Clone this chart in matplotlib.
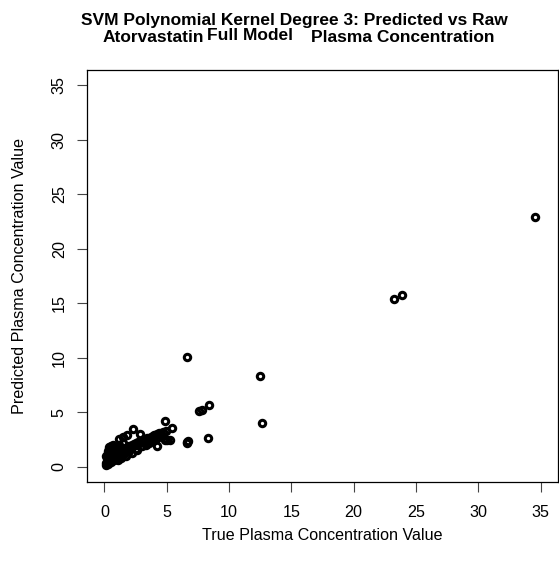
import numpy as np
import matplotlib.pyplot as plt

plt.rcParams['font.family'] = ['Liberation Sans', 'DejaVu Sans']

# observed (true) vs SVM-predicted plasma concentration
true_vals = [
    # dense low-concentration cluster
    0.10, 0.15, 0.20, 0.25, 0.30, 0.20, 0.30, 0.25, 0.35, 0.40,
    0.50, 0.60, 0.70, 0.80, 0.45, 0.50, 0.60, 0.70, 0.80, 0.90,
    1.00, 1.10, 1.20, 1.30, 1.40, 1.50, 1.60, 1.70, 1.80, 1.90,
    2.00, 2.10, 2.20, 2.30, 2.40, 2.50, 2.60, 2.70, 2.80, 3.00,
    3.10, 3.20, 3.40, 3.50, 3.70, 3.90, 4.00, 4.20, 4.40, 4.50,
    4.70, 4.90, 1.00, 1.20, 1.50, 1.60, 0.90, 1.10, 1.20, 1.50,
    1.80, 0.15, 0.30, 0.60, 1.00, 1.40, 2.00, 2.50, 3.00, 3.60,
    4.10, 0.55, 0.75, 1.30, 1.70, 2.20, 2.60, 3.30, 3.80, 4.30,
    # scattered points
    2.28, 2.86, 4.84, 5.40, 5.05, 4.25, 4.86, 5.27, 0.46,
    6.60, 6.70, 6.65, 7.60, 7.80, 8.40, 8.33, 6.63, 12.49, 12.65,
    23.23, 23.87, 34.54,
]
pred_vals = [
    0.20, 0.30, 0.40, 0.25, 0.50, 0.80, 1.00, 1.30, 1.60, 1.80,
    1.90, 1.70, 1.95, 1.80, 0.60, 0.70, 0.80, 1.00, 0.90, 1.10,
    1.20, 1.00, 1.30, 1.20, 1.50, 1.40, 1.60, 1.50, 1.80, 1.70,
    1.90, 1.80, 2.00, 1.90, 2.10, 2.20, 2.00, 2.30, 2.20, 2.40,
    2.30, 2.50, 2.60, 2.50, 2.70, 2.80, 2.90, 3.00, 3.10, 3.00,
    3.20, 3.30, 1.80, 2.00, 2.20, 1.20, 0.70, 0.60, 2.50, 2.70,
    2.90, 1.00, 1.40, 1.20, 0.90, 1.10, 1.40, 1.60, 1.90, 2.20,
    2.50, 0.40, 0.60, 0.80, 1.00, 1.30, 1.50, 2.00, 2.40, 2.70,
    3.43, 3.03, 4.22, 3.58, 2.45, 1.90, 2.45, 2.45, 1.83,
    2.20, 2.35, 2.30, 5.10, 5.20, 5.66, 2.63, 10.06, 8.34, 4.00,
    15.39, 15.75, 22.95,
]

ticks = [0, 5, 10, 15, 20, 25, 30, 35]

W, H = 559, 561
fig = plt.figure(figsize=(W / 100, H / 100), dpi=100)
ax = fig.add_axes([87 / W, 1 - 482 / H, (558 - 87) / W, (482 - 70) / H])

ax.plot(true_vals, pred_vals, 'o', mfc='none', mec='black',
        ms=4.6, mew=2.2)

ax.set_xlim(-1.4, 36.4)
ax.set_ylim(-1.4, 36.4)
ax.set_xticks(ticks)
ax.set_yticks(ticks)
ax.tick_params(direction='out', length=7, width=0.8, labelsize=11.6,
               color='#444444')
ax.tick_params(axis='x', pad=9.5)
ax.tick_params(axis='y', pad=7.5)
for lab in ax.get_yticklabels():
    lab.set_rotation(90)
    lab.set_va('center')
for s in ax.spines.values():
    s.set_linewidth(0.9)

fig.text(322 / W, 1 - 535 / H, 'True Plasma Concentration Value',
         ha='center', va='center', fontsize=11.6)
fig.text(20 / W, 1 - 276 / H, 'Predicted Plasma Concentration Value',
         ha='center', va='center', rotation=90, fontsize=11.6)

# title pieces
tkw = dict(fontsize=12.5, fontweight='bold', va='baseline')
fig.text(294.5 / W, 1 - 24.5 / H,
         'SVM Polynomial Kernel Degree 3: Predicted vs Raw', ha='center', **tkw)
fig.text(103 / W, 1 - 41.7 / H, 'Atorvastatin', ha='left', **tkw)
fig.text(207 / W, 1 - 39.5 / H, 'Full Model', ha='left', **tkw)
fig.text(311 / W, 1 - 41.7 / H, 'Plasma Concentration', ha='left', **tkw)

fig.savefig('out.png', dpi=100)
